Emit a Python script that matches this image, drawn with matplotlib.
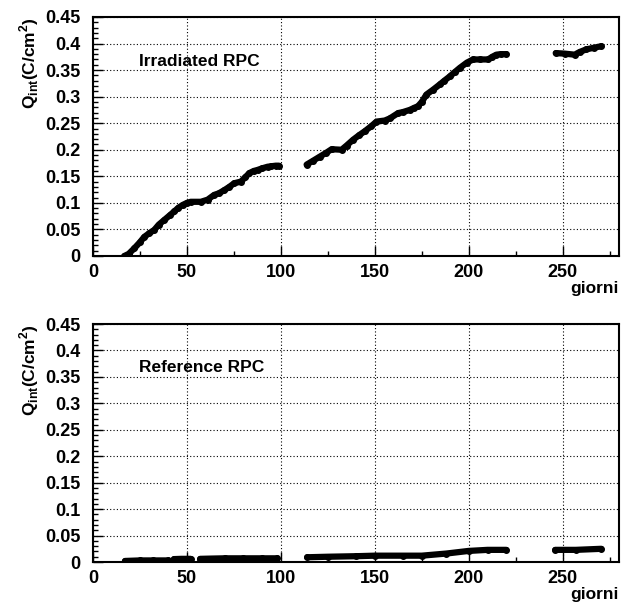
import numpy as np
import matplotlib
matplotlib.use("Agg")
from matplotlib import pyplot as plt
from matplotlib.ticker import MultipleLocator

nan = np.nan

# irradiated chamber (NaN = gap in the data taking)
irr_days = [16.7, 19, 22, 25, 27.3, 30, 32.6, 35, 38, 41, 43.3, 45.5, 47.7, 50, 52, 57.4, 61, 64.5,
            67, 69.9, 72.5, 75.2, 78.7, 81, 83.2, 85.5, 87.6, 90, 92.9, 95, 97.3, 99, nan,
            113.7, 117, 120.7, 124, 127, 132.3, 135, 138.5, 141.5, 144.7, 148, 150.9, 155.3, 158,
            162.4, 165, 168.6, 171, 173, 175, 177.5, 181, 184.6, 187, 189.9, 192.5, 195.2, 199, 202.3,
            206, 210.3, 212.5, 214.7, 217, 220, nan,
            246.3, 251, 256.4, 259, 262.6, 266.5, 270.6]
irr_q = [0.0, 0.004, 0.0145, 0.026, 0.036, 0.043, 0.049, 0.059, 0.068, 0.077, 0.084, 0.091, 0.096, 0.1, 0.102,
         0.102, 0.106, 0.115, 0.118, 0.124, 0.13, 0.137, 0.14, 0.148, 0.156, 0.16, 0.162, 0.165, 0.168, 0.169,
         0.17, 0.17, nan,
         0.172, 0.179, 0.187, 0.194, 0.201, 0.2, 0.208, 0.219, 0.227, 0.235, 0.244, 0.253, 0.255, 0.259,
         0.269, 0.271, 0.275, 0.279, 0.282, 0.29, 0.304, 0.313, 0.323, 0.33, 0.338, 0.346, 0.354, 0.364, 0.37,
         0.37, 0.37, 0.375, 0.379, 0.38, 0.38, nan,
         0.382, 0.381, 0.379, 0.384, 0.389, 0.392, 0.395]

# reference chamber
ref_days = [17, 25, 32, 40, nan, 43, 47, 52, nan, 57, 63, 70, 80, 90, 98, nan,
            114, 125, 140, 150, 165, 175, 188, 200, 210, 220, nan, 246, 257, 270.6]
ref_q = [0.002, 0.003, 0.003, 0.003, nan, 0.0055, 0.006, 0.006, nan, 0.006, 0.0065, 0.007, 0.007, 0.007, 0.007, nan,
         0.009, 0.010, 0.011, 0.012, 0.012, 0.012, 0.016, 0.021, 0.023, 0.023, nan, 0.023, 0.023, 0.025]

ytick_labels = ['0', '0.05', '0.1', '0.15', '0.2', '0.25', '0.3', '0.35', '0.4', '0.45']

plt.rcParams['font.family'] = ['Liberation Sans', 'DejaVu Sans']
plt.rcParams['font.weight'] = 'bold'
plt.rcParams['mathtext.fontset'] = 'custom'
plt.rcParams['mathtext.rm'] = 'Liberation Sans:bold'
plt.rcParams['mathtext.bf'] = 'Liberation Sans:bold'

fig = plt.figure(figsize=(6.21, 6.04), dpi=100)
ax1 = fig.add_axes([0.1498, 0.5762, 0.847, 0.3957])
ax2 = fig.add_axes([0.1498, 0.0695, 0.847, 0.394])

panels = [(ax1, irr_days, irr_q, "Irradiated RPC"), (ax2, ref_days, ref_q, "Reference RPC")]
for ax, d, q, name in panels:
    ax.plot(d, q, color='black', lw=4.5, solid_capstyle='round', solid_joinstyle='round',
            marker='o', ms=4)
    ax.set_xlim(0, 280)
    ax.set_ylim(0, 0.45)
    ax.xaxis.set_major_locator(MultipleLocator(50))
    ax.xaxis.set_minor_locator(MultipleLocator(25))
    ax.yaxis.set_minor_locator(MultipleLocator(0.01))
    ax.set_yticks(np.arange(0, 0.451, 0.05))
    ax.set_yticklabels(ytick_labels)
    ax.tick_params(which='major', direction='in', length=7, width=1, labelsize=13)
    ax.tick_params(which='minor', direction='in', length=3.5, width=1)
    ax.tick_params(axis='y', which='major', pad=9)
    ax.tick_params(axis='x', which='major', pad=6)
    ax.tick_params(top=False, right=False)
    for s in ax.spines.values():
        s.set_linewidth(1.5)
    ax.grid(True, which='major', color='black', ls=(0, (1, 2)), lw=0.8)
    ax.set_xlabel("giorni", loc='right', fontsize=12.5, fontweight='bold', labelpad=0)
    ax.set_ylabel(r"Q$_{\rm int}$(C/cm$^{\rm 2}$)", loc='top', fontsize=12.5, fontweight='bold')
    ax.yaxis.set_label_coords(-0.099, 1.0)
    ax.text(24.5, 0.367, name, fontsize=12.5, fontweight='bold', va='center')

fig.savefig("out.png", dpi=100)
